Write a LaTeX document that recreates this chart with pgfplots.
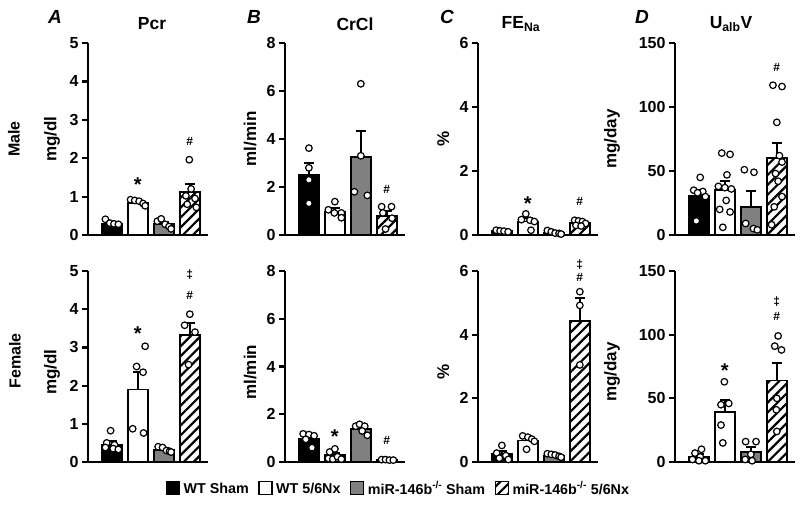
\documentclass[border=0pt]{standalone}
\usepackage{fontspec}
\setmainfont{Liberation Sans}
\usepackage{pgfplots}
\pgfplotsset{compat=1.18}
\usetikzlibrary{patterns.meta}
\definecolor{barGray}{RGB}{128,128,128}

\tikzset{
  symst/.style={font=\bfseries\fontsize{12}{12}\selectfont},
  starst/.style={font=\bfseries\fontsize{20}{20}\selectfont},
}
\pgfplotsset{
  panel/.style={
    scale only axis, width=120pt,
    xmin=-0.92, xmax=3.7, ymin=0,
    axis x line*=bottom, axis y line*=left,
    axis line style={line width=2.2pt,-},
    every outer x axis line/.append style={-},
    every outer y axis line/.append style={-},
    xtick=\empty,
    tick align=outside, major tick length=6pt,
    ytick style={line width=2.2pt, black},
    tick label style={font=\bfseries\fontsize{16}{16}\selectfont},
    /pgf/number format/assume math mode=true,
    ylabel style={font=\bfseries\fontsize{17}{17}\selectfont, anchor=center},
    clip=false,
  },
  errs/.style={/pgfplots/error bars/.cd, y dir=plus, y explicit,
    error bar style={line width=2pt, black, solid},
    error mark options={rotate=90, line width=2pt, mark size=5pt, black},
    /pgfplots/.cd},
  barbase/.style={ybar, bar width=20pt, bar shift=0pt, draw=black, line width=1.6pt},
  bk/.style={barbase, fill=black, errs},
  wh/.style={barbase, fill=white, errs},
  gy/.style={barbase, fill=barGray, errs},
  ht/.style={barbase, pattern={Lines[angle=45,distance=7pt,line width=2.2pt]}, pattern color=black, errs},
  pts/.style={only marks, mark=*, mark size=3.3pt, mark options={fill=white, draw=black, line width=1.2pt, solid}},
}

\begin{document}
\begin{tikzpicture}[x=1pt,y=1pt]
\path[use as bounding box] (0,0) rectangle (800,507);

% ---------------- Panel A, Male ----------------
\begin{axis}[panel, at={(88pt,272pt)}, anchor=south west, height=192pt,
  ymax=5, ytick={0,1,2,3,4,5}, ylabel={mg/dl},
  ylabel style={at={(axis description cs:-0.30,0.5)}}]
\addplot[bk] coordinates {(0,0.30) +- (0,0.04)};
\addplot[wh] coordinates {(1,0.84) +- (0,0.04)};
\addplot[gy] coordinates {(2,0.29) +- (0,0.04)};
\addplot[ht] coordinates {(3,1.12) +- (0,0.22)};
\addplot[pts] coordinates {
 (-0.25,0.41) (-0.08,0.31) (0.08,0.29) (0.25,0.28)
 (0.72,0.92) (0.88,0.90) (1.05,0.88) (1.2,0.82) (1.28,0.76)
 (1.75,0.36) (1.9,0.42) (2.05,0.28) (2.2,0.22) (2.28,0.16)
 (2.98,1.96) (3.05,1.20) (2.85,1.02) (3.2,0.95) (2.9,0.80) (3.25,0.72)};
\node[starst] at (axis cs:1,1.30) {*};
\node[symst] at (axis cs:3,2.43) {\#};
\end{axis}

% ---------------- Panel B, Male ----------------
\begin{axis}[panel, at={(285pt,272pt)}, anchor=south west, height=192pt,
  ymax=8, ytick={0,2,4,6,8}, ylabel={ml/min},
  ylabel style={at={(axis description cs:-0.29,0.5)}}]
\addplot[bk] coordinates {(0,2.50) +- (0,0.50)};
\addplot[wh] coordinates {(1,0.97) +- (0,0.15)};
\addplot[gy] coordinates {(2,3.25) +- (0,1.10)};
\addplot[ht] coordinates {(3,0.80) +- (0,0.20)};
\addplot[pts] coordinates {
 (0,3.62) (0,2.80) (0,2.30) (0,1.32)
 (0.75,1.05) (1.0,1.39) (1.25,0.92) (0.98,0.92) (1.25,0.72)
 (2,6.30) (2,3.30) (1.75,1.80) (2.25,1.65)
 (2.8,1.18) (3.18,1.18) (2.85,0.92) (3.2,0.70) (2.95,0.25)};
\node[symst] at (axis cs:3,1.92) {\#};
\end{axis}

% ---------------- Panel C, Male ----------------
\begin{axis}[panel, at={(478pt,272pt)}, anchor=south west, height=192pt,
  ymax=6, ytick={0,2,4,6}, ylabel={\%},
  ylabel style={at={(axis description cs:-0.29,0.5)}}]
\addplot[bk] coordinates {(0,0.12) +- (0,0.02)};
\addplot[wh] coordinates {(1,0.42) +- (0,0.10)};
\addplot[gy] coordinates {(2,0.08) +- (0,0.02)};
\addplot[ht] coordinates {(3,0.38) +- (0,0.04)};
\addplot[pts] coordinates {
 (-0.22,0.15) (-0.07,0.13) (0.08,0.12) (0.24,0.10)
 (0.92,0.66) (0.75,0.48) (1.08,0.46) (1.25,0.42) (1.12,0.15)
 (1.75,0.14) (1.9,0.10) (2.05,0.06) (2.2,0.05) (2.28,0.03)
 (2.8,0.46) (2.95,0.44) (3.1,0.42) (3.22,0.36) (2.85,0.30) (3.05,0.28)};
\node[starst] at (axis cs:1,0.98) {*};
\node[symst] at (axis cs:3,1.05) {\#};
\end{axis}

% ---------------- Panel D, Male ----------------
\begin{axis}[panel, at={(675pt,272pt)}, anchor=south west, height=192pt,
  ymax=150, ytick={0,50,100,150}, ylabel={mg/day},
  ylabel style={at={(axis description cs:-0.525,0.5)}}]
\addplot[bk] coordinates {(0,31) +- (0,4)};
\addplot[wh] coordinates {(1,35) +- (0,7)};
\addplot[gy] coordinates {(2,22) +- (0,12)};
\addplot[ht] coordinates {(3,60) +- (0,12)};
\addplot[pts] coordinates {
 (0.05,45) (-0.2,35) (0.15,34) (-0.05,33) (0.25,30) (-0.1,11)
 (0.88,64) (1.2,63) (1.08,47) (0.75,38) (1.0,37) (1.25,36) (1.05,27) (0.8,20) (1.2,18) (0.92,6)
 (1.75,51) (2.12,49) (1.8,9) (2.1,5) (2.25,4)
 (2.85,117) (3.2,116) (3.0,88) (3.1,62) (3.2,57) (2.95,48) (3.05,42) (3.2,30) (2.9,22) (2.8,8)};
\node[symst] at (axis cs:3,131) {\#};
\end{axis}

% ---------------- Panel A, Female ----------------
\begin{axis}[panel, at={(88pt,45pt)}, anchor=south west, height=191pt,
  ymax=5, ytick={0,1,2,3,4,5}, ylabel={mg/dl},
  ylabel style={at={(axis description cs:-0.30,0.47)}},
  legend image code/.code={\draw[#1,/tikz/.cd,line width=1.4pt] (0pt,-6pt) rectangle (13pt,7pt);},
  legend style={at={(axis description cs:2.58,-0.139)}, anchor=center,
    legend columns=4, draw=none, fill=none,
    font=\bfseries\fontsize{14.3}{14.3}\selectfont,
    nodes={inner sep=0.5pt},
    /tikz/every odd column/.append style={column sep=3pt},
    /tikz/every even column/.append style={column sep=9pt},
    inner sep=0pt}]
\addplot[bk] coordinates {(0,0.45) +- (0,0.10)};
\addlegendentry{WT Sham}
\addplot[wh] coordinates {(1,1.90) +- (0,0.46)};
\addlegendentry{WT 5/6Nx}
\addplot[gy] coordinates {(2,0.32) +- (0,0.04)};
\addlegendentry{miR-146b\textsuperscript{-/-} Sham}
\addplot[ht] coordinates {(3,3.33) +- (0,0.30)};
\addlegendentry{miR-146b\textsuperscript{-/-} 5/6Nx}
\addplot[pts, forget plot] coordinates {
 (-0.05,0.82) (-0.2,0.50) (0.1,0.45) (-0.25,0.38) (0.05,0.35) (0.25,0.33)
 (1.28,3.03) (0.95,2.50) (1.2,2.35) (0.8,0.87) (1.22,0.76)
 (1.78,0.40) (1.95,0.38) (2.1,0.30) (2.22,0.28) (2.28,0.26)
 (3.0,3.87) (2.8,3.58) (3.2,3.40) (2.95,2.55)};
\node[starst] at (axis cs:1,3.36) {*};
\node[symst] at (axis cs:3,4.36) {\#};
\node[symst] at (axis cs:3,4.90) {‡};
\end{axis}

% ---------------- Panel B, Female ----------------
\begin{axis}[panel, at={(285pt,45pt)}, anchor=south west, height=191pt,
  ymax=8, ytick={0,2,4,6,8}, ylabel={ml/min},
  ylabel style={at={(axis description cs:-0.29,0.47)}}]
\addplot[bk] coordinates {(0,0.98) +- (0,0.10)};
\addplot[wh] coordinates {(1,0.30) +- (0,0.08)};
\addplot[gy] coordinates {(2,1.38) +- (0,0.08)};
\addplot[ht] coordinates {(3,0.08) +- (0,0.01)};
\addplot[pts] coordinates {
 (-0.22,1.18) (0.0,1.15) (0.2,1.10) (-0.12,0.95) (0.12,0.60)
 (0.8,0.42) (1.0,0.55) (0.75,0.15) (0.92,0.12) (1.1,0.22) (1.25,0.12)
 (1.8,1.50) (1.95,1.58) (2.15,1.50) (2.05,1.30) (2.25,1.12)
 (2.8,0.10) (2.95,0.10) (3.1,0.08) (3.25,0.08)};
\node[starst] at (axis cs:1,1.06) {*};
\node[symst] at (axis cs:3,0.92) {\#};
\end{axis}

% ---------------- Panel C, Female ----------------
\begin{axis}[panel, at={(478pt,45pt)}, anchor=south west, height=191pt,
  ymax=6, ytick={0,2,4,6}, ylabel={\%},
  ylabel style={at={(axis description cs:-0.29,0.47)}}]
\addplot[bk] coordinates {(0,0.25) +- (0,0.08)};
\addplot[wh] coordinates {(1,0.67) +- (0,0.08)};
\addplot[gy] coordinates {(2,0.20) +- (0,0.03)};
\addplot[ht] coordinates {(3,4.43) +- (0,0.73)};
\addplot[pts] coordinates {
 (0.0,0.52) (-0.2,0.28) (0.15,0.20) (-0.1,0.12) (0.25,0.08)
 (0.8,0.82) (1.0,0.78) (1.15,0.72) (1.25,0.65) (0.95,0.40)
 (1.75,0.26) (1.9,0.24) (2.05,0.22) (2.2,0.18) (2.28,0.15)
 (3.0,5.35) (3.0,4.92) (3.0,3.05)};
\node[symst] at (axis cs:3,5.80) {\#};
\node[symst] at (axis cs:3,6.20) {‡};
\end{axis}

% ---------------- Panel D, Female ----------------
\begin{axis}[panel, at={(675pt,45pt)}, anchor=south west, height=191pt,
  ymax=150, ytick={0,50,100,150}, ylabel={mg/day},
  ylabel style={at={(axis description cs:-0.525,0.47)}}]
\addplot[bk] coordinates {(0,4) +- (0,2)};
\addplot[wh] coordinates {(1,39.5) +- (0,9)};
\addplot[gy] coordinates {(2,8) +- (0,4)};
\addplot[ht] coordinates {(3,64) +- (0,14)};
\addplot[pts] coordinates {
 (0.1,10) (-0.15,7) (0.05,4) (-0.25,2) (0.0,1) (0.25,1)
 (0.98,63) (0.85,45) (1.15,46) (0.85,29) (0.92,15)
 (1.8,16) (2.2,16) (2.0,6) (1.78,2) (2.05,1)
 (3.05,99) (2.92,91) (3.18,88) (3.0,50) (2.98,41) (3.0,24)};
\node[starst] at (axis cs:1,72) {*};
\node[symst] at (axis cs:3,114) {\#};
\node[symst] at (axis cs:3,126) {‡};
\end{axis}

% ---------------- Titles and labels ----------------
\node[font=\bfseries\itshape\fontsize{19}{19}\selectfont] at (55,490) {A};
\node[font=\bfseries\itshape\fontsize{19}{19}\selectfont] at (254,490) {B};
\node[font=\bfseries\itshape\fontsize{19}{19}\selectfont] at (447,490) {C};
\node[font=\bfseries\itshape\fontsize{19}{19}\selectfont] at (642,490) {D};
\node[font=\bfseries\fontsize{17.5}{17.5}\selectfont] at (152,483) {Pcr};
\node[font=\bfseries\fontsize{17.5}{17.5}\selectfont] at (355,483) {CrCl};
\node[font=\bfseries\fontsize{17.5}{17.5}\selectfont] at (521,483) {FE\textsubscript{Na}};
\node[font=\bfseries\fontsize{17.5}{17.5}\selectfont] at (731,483) {U\textsubscript{alb}V};
\node[font=\bfseries\fontsize{16}{16}\selectfont, rotate=90] at (14,368) {Male};
\node[font=\bfseries\fontsize{16}{16}\selectfont, rotate=90] at (15,146) {Female};
\end{tikzpicture}
\end{document}
